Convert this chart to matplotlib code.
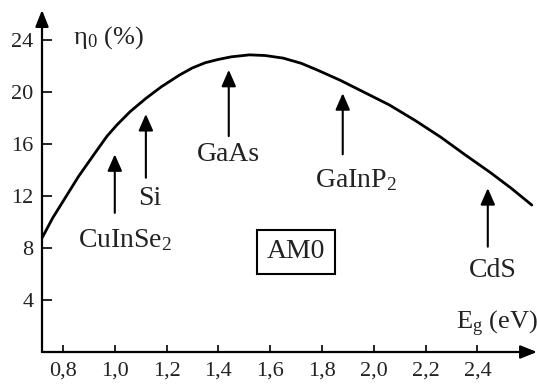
import numpy as np
import matplotlib
matplotlib.use("Agg")
import matplotlib.pyplot as plt

plt.rcParams['font.family'] = ['Liberation Serif', 'DejaVu Serif']
plt.rcParams['mathtext.fontset'] = 'custom'
plt.rcParams['mathtext.rm'] = 'Liberation Serif'
plt.rcParams['mathtext.it'] = 'Liberation Serif:italic'

# curva de eficiencia limite
eg = [0.72, 0.76, 0.81, 0.86, 0.92, 0.97, 1.01, 1.06, 1.12, 1.18, 1.25, 1.30,
      1.35, 1.40, 1.45, 1.52, 1.58, 1.65, 1.72, 1.78, 1.87, 1.96, 2.06, 2.16,
      2.26, 2.35, 2.45, 2.53, 2.61]
eta = [8.8, 10.3, 11.9, 13.5, 15.2, 16.6, 17.5, 18.5, 19.5, 20.4, 21.3, 21.85,
       22.25, 22.5, 22.7, 22.85, 22.8, 22.6, 22.2, 21.7, 20.9, 20.0, 19.0, 17.8,
       16.5, 15.2, 13.8, 12.6, 11.3]

# materiais marcados com setas
materiais = ['CuInSe$_2$', 'Si', 'GaAs', 'GaInP$_2$', 'CdS']
seta_x = [1.0, 1.12, 1.44, 1.88, 2.44]
seta_base = [10.7, 13.4, 16.6, 15.2, 8.1]
seta_ponta = [15.2, 18.3, 21.7, 19.9, 12.6]
rotulo_x = [1.04, 1.135, 1.44, 1.93, 2.46]
rotulo_y = [8.6, 11.8, 15.2, 13.2, 6.3]

xticks = [0.8, 1.0, 1.2, 1.4, 1.6, 1.8, 2.0, 2.2, 2.4]
xtick_labels = ['0,8', '1,0', '1,2', '1,4', '1,6', '1,8', '2,0', '2,2', '2,4']
yticks = [4, 8, 12, 16, 20, 24]

fig = plt.figure(figsize=(5.37, 3.87), dpi=100)
ax = fig.add_axes([42/537, 35/387, 495/537, 342/387])
ax.set_xlim(0.719, 2.63)
ax.set_ylim(0, 26.3)

for s in ax.spines.values():
    s.set_visible(False)

# eixos com setas
ax.annotate('', xy=(1, 0), xytext=(0, 0), xycoords='axes fraction',
            arrowprops=dict(arrowstyle='-|>,head_length=0.5,head_width=0.2',
                            mutation_scale=20, color='black', lw=1.6,
                            shrinkA=0, shrinkB=0), annotation_clip=False)
ax.annotate('', xy=(0, 1), xytext=(0, 0), xycoords='axes fraction',
            arrowprops=dict(arrowstyle='-|>,head_length=0.5,head_width=0.2',
                            mutation_scale=20, color='black', lw=1.6,
                            shrinkA=0, shrinkB=0), annotation_clip=False)

ax.plot(eg, eta, color='black', lw=2.0, solid_capstyle='round',
        solid_joinstyle='round')

for nome, x, b, p, lx, ly in zip(materiais, seta_x, seta_base, seta_ponta, rotulo_x, rotulo_y):
    ax.annotate('', xy=(x, p), xytext=(x, b),
                arrowprops=dict(arrowstyle='-|>,head_length=0.5,head_width=0.22',
                                mutation_scale=20, color='black', lw=1.5,
                                shrinkA=0, shrinkB=0))
    ax.text(lx, ly, nome, fontsize=20, ha='center', va='center', color='#222')

ax.text(1.70, 7.7, 'AM0', fontsize=20, ha='center', va='center', color='#222',
        bbox=dict(boxstyle='square,pad=0.35', fc='white', ec='black', lw=1.5))

ax.text(0.84, 24.2, 'η$_0$ (%)', fontsize=19, ha='left', va='center', color='#222')
ax.text(2.635, 1.0, 'E$_\\mathrm{g}$ (eV)', fontsize=19, ha='right', va='bottom',
        color='#222')

ax.set_xticks(xticks)
ax.set_xticklabels(xtick_labels)
ax.set_yticks(yticks)
ax.tick_params(axis='y', direction='in', length=7.5, width=1.2, pad=6,
               labelsize=16, labelcolor='#222')
ax.tick_params(axis='x', direction='in', length=5, width=1.2, pad=7,
               labelsize=16, labelcolor='#222')

fig.savefig('out.png', dpi=100)
